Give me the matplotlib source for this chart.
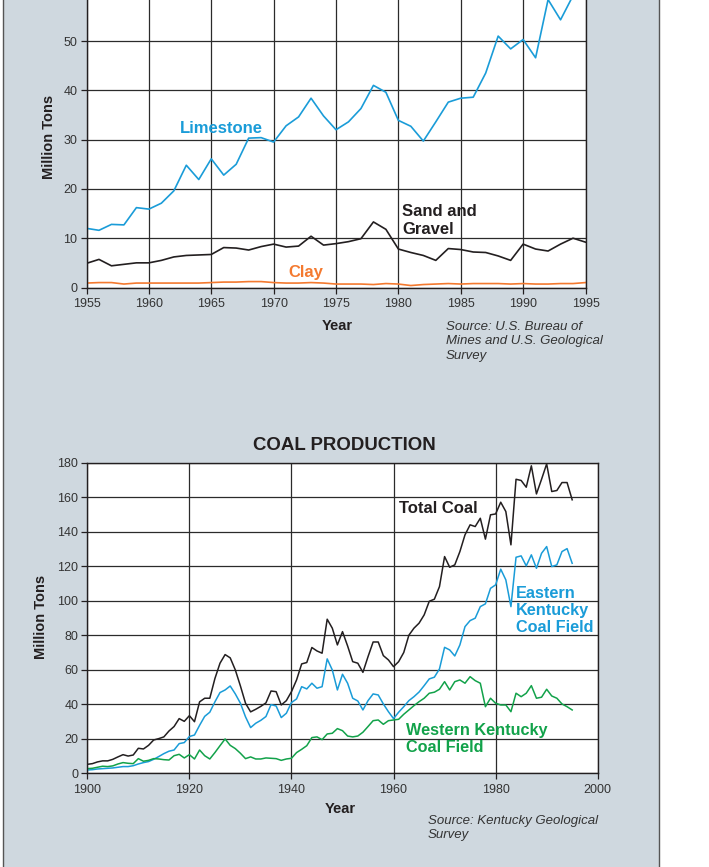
"""Kentucky mineral and coal production charts (two panels on a gray sheet)."""

import matplotlib
matplotlib.use("Agg")
import matplotlib.pyplot as plt
from matplotlib.patches import Rectangle

# ---- data -------------------------------------------------------------
MINERAL_YEARS = list(range(1955, 1996))
LIMESTONE = [12.0, 11.6, 12.8, 12.7, 16.2, 15.9, 17.1, 19.6, 24.8, 21.9,
             26.1, 22.8, 25.0, 30.3, 30.4, 29.5, 32.8, 34.6, 38.4, 34.8,
             32.0, 33.6, 36.3, 41.0, 39.6, 33.9, 32.7, 29.7, 33.6, 37.6,
             38.4, 38.6, 43.5, 51.0, 48.4, 50.3, 46.6, 58.4, 54.3, 59.2,
             61.0]
SAND_GRAVEL = [4.9, 5.7, 4.4, 4.7, 5.0, 5.0, 5.5, 6.2, 6.5, 6.6,
               6.7, 8.1, 8.0, 7.6, 8.3, 8.8, 8.2, 8.4, 10.4, 8.6,
               8.9, 9.3, 9.9, 13.3, 11.8, 7.8, 7.1, 6.5, 5.5, 7.9,
               7.7, 7.2, 7.1, 6.4, 5.5, 8.8, 7.8, 7.4, 8.8, 10.0,
               9.2]
CLAY = [0.9, 1.0, 1.0, 0.7, 0.9, 0.9, 0.9, 0.9, 0.9, 0.9,
        1.0, 1.1, 1.1, 1.2, 1.2, 1.0, 0.9, 0.9, 1.0, 0.9,
        0.7, 0.7, 0.7, 0.6, 0.8, 0.7, 0.4, 0.6, 0.7, 0.8,
        0.7, 0.8, 0.8, 0.8, 0.7, 0.8, 0.7, 0.7, 0.8, 0.8,
        1.0]
MINERAL_XTICKS = [1955, 1960, 1965, 1970, 1975, 1980, 1985, 1990, 1995]
MINERAL_YTICKS = [0, 10, 20, 30, 40, 50]

COAL_YEARS = list(range(1900, 1996))
TOTAL_COAL = [5.2, 5.6, 6.6, 7.2, 7.2, 8.1, 9.5, 10.8, 10.0, 10.6,
              14.5, 14.1, 16.2, 19.3, 20.1, 21.1, 24.5, 27.1, 31.7, 30.1,
              33.4, 29.9, 41.4, 43.5, 43.5, 54.9, 63.8, 68.8, 66.9, 59.9,
              50.6, 40.6, 35.6, 37.1, 38.8, 40.8, 47.7, 47.3, 39.6, 42.1,
              47.3, 54.1, 63.4, 64.2, 72.9, 70.9, 69.6, 89.3, 84.1, 74.4,
              82.1, 73.8, 64.7, 63.8, 58.5, 67.6, 76.1, 76.1, 68.2, 65.7,
              61.8, 64.7, 70.0, 80.0, 84.1, 87.0, 91.8, 99.7, 100.9, 108.2,
              125.6, 119.4, 120.8, 128.5, 138.2, 144.0, 143.0, 147.8, 135.7, 149.8,
              150.3, 157.1, 151.7, 132.4, 170.4, 169.7, 165.8, 178.2, 161.9, 170.4,
              179.3, 163.3, 163.9, 168.5, 168.5, 158.5]
EASTERN = [1.9, 2.1, 2.5, 2.7, 2.9, 3.1, 3.5, 3.9, 3.9, 4.4,
           5.4, 6.2, 6.8, 8.1, 9.7, 11.4, 12.8, 13.5, 17.2, 17.8,
           21.3, 22.2, 27.8, 33.0, 35.4, 41.4, 46.8, 48.3, 50.6, 46.0,
           40.6, 32.7, 26.5, 29.0, 30.7, 32.9, 39.8, 39.0, 32.3, 34.8,
           41.0, 43.1, 50.2, 48.9, 52.2, 49.3, 50.2, 66.3, 59.9, 48.3,
           57.4, 52.2, 43.5, 41.9, 36.7, 42.1, 46.0, 45.4, 40.2, 35.7,
           31.7, 35.4, 38.6, 42.1, 44.4, 47.1, 50.8, 54.7, 55.7, 60.5,
           73.0, 71.5, 68.0, 74.4, 85.0, 88.5, 89.9, 96.6, 98.2, 107.2,
           109.2, 118.3, 112.1, 96.6, 125.2, 126.0, 120.2, 126.6, 118.8, 127.5,
           131.4, 119.8, 120.8, 128.5, 130.2, 121.7]
WESTERN = [2.7, 2.9, 3.5, 4.1, 3.9, 4.3, 5.4, 6.2, 5.8, 5.6,
           8.5, 7.0, 7.5, 8.5, 8.3, 7.9, 7.7, 10.2, 11.0, 8.9,
           10.8, 8.3, 13.5, 10.2, 8.3, 12.0, 16.0, 19.9, 16.2, 14.3,
           11.6, 8.5, 9.5, 8.3, 8.3, 8.9, 8.7, 8.5, 7.5, 8.3,
           8.7, 12.0, 13.9, 16.0, 20.7, 21.1, 19.5, 22.8, 23.2, 25.9,
           24.7, 21.6, 21.1, 21.6, 23.8, 27.1, 30.5, 30.9, 28.4, 30.5,
           30.9, 31.3, 34.2, 36.7, 39.2, 41.5, 43.5, 46.4, 47.0, 48.7,
           53.1, 48.3, 53.1, 54.1, 52.2, 56.0, 53.7, 52.2, 38.6, 43.5,
           40.6, 39.6, 39.6, 35.7, 46.4, 44.4, 46.4, 50.8, 43.5, 44.1,
           48.7, 44.8, 43.5, 40.2, 38.6, 36.7]
COAL_XTICKS = [1900, 1920, 1940, 1960, 1980, 2000]
COAL_YTICKS = [0, 20, 40, 60, 80, 100, 120, 140, 160, 180]

# ---- style ------------------------------------------------------------
W, H = 709, 867
PANEL = "#cfd8df"
BLUE = "#1a9cd8"
GREEN = "#12a24a"
ORANGE = "#f47a30"
INK = "#231f20"
GRID = "#2b2b2b"

plt.rcParams["font.family"] = ["Liberation Sans", "DejaVu Sans"]


def fx(px: float) -> float:
    """Pixel column -> figure fraction."""
    return px / W


def fy(py: float) -> float:
    """Pixel row (from top) -> figure fraction."""
    return 1 - py / H


def style_axes(ax, xticks, yticks):
    """Shared look: white plot area, dark grid, short outward ticks."""
    ax.set_facecolor("white")
    ax.set_xticks(xticks)
    ax.set_yticks(yticks)
    ax.grid(True, color=GRID, linewidth=0.9)
    ax.set_axisbelow(True)
    ax.tick_params(direction="out", length=4.5, width=0.9, color=INK,
                   labelsize=9, labelcolor="#333333", pad=2)
    ax.tick_params(axis="x", pad=3)
    for spine in ax.spines.values():
        spine.set_color(INK)
        spine.set_linewidth(1.0)


def plot_minerals(fig):
    """Upper chart: limestone, sand and gravel, clay (top is cut off)."""
    # axes run past the top edge of the figure, as in the cropped original
    ax = fig.add_axes([fx(86.5), fy(287.5), fx(499), 60 * 4.93 / H])
    ax.plot(MINERAL_YEARS, LIMESTONE, color=BLUE, lw=1.2)
    ax.plot(MINERAL_YEARS, SAND_GRAVEL, color=INK, lw=1.2)
    ax.plot(MINERAL_YEARS, CLAY, color=ORANGE, lw=1.2)
    ax.set_xlim(1955, 1995)
    ax.set_ylim(0, 60)
    style_axes(ax, MINERAL_XTICKS, MINERAL_YTICKS)
    ax.spines["top"].set_visible(False)

    ax.text(1962.5, 32.3, "Limestone", color=BLUE, fontsize=12,
            fontweight="bold", ha="left", va="center")
    ax.text(1980.3, 13.6, "Sand and\nGravel", color=INK, fontsize=12,
            fontweight="bold", ha="left", va="center", linespacing=1.2)
    ax.text(1971.2, 3.1, "Clay", color=ORANGE, fontsize=12,
            fontweight="bold", ha="left", va="center")

    fig.text(fx(49), fy(137), "Million Tons", rotation=90, fontsize=10.5,
             fontweight="bold", color=INK, ha="center", va="center")
    fig.text(fx(337), fy(326), "Year", fontsize=10.5, fontweight="bold",
             color=INK, ha="center", va="center")
    fig.text(fx(446), fy(321), "Source: U.S. Bureau of\nMines and U.S. Geological\nSurvey",
             fontsize=9.5, style="italic", color="#333333", ha="left",
             va="top", linespacing=1.27)


def plot_coal(fig):
    """Lower chart: Kentucky coal production by field."""
    ax = fig.add_axes([fx(87.3), fy(773.3), fx(510.4), 310.6 / H])
    ax.plot(COAL_YEARS, TOTAL_COAL, color=INK, lw=1.1)
    ax.plot(COAL_YEARS, EASTERN, color=BLUE, lw=1.1)
    ax.plot(COAL_YEARS, WESTERN, color=GREEN, lw=1.1)
    ax.set_xlim(1900, 2000)
    ax.set_ylim(0, 180)
    style_axes(ax, COAL_XTICKS, COAL_YTICKS)

    ax.text(1961.1, 153.2, "Total Coal", color=INK, fontsize=12,
            fontweight="bold", ha="left", va="center")
    ax.text(1983.9, 94.5, "Eastern\nKentucky\nCoal Field", color=BLUE,
            fontsize=11.7, fontweight="bold", ha="left", va="center",
            linespacing=1.16)
    ax.text(1962.4, 19.7, "Western Kentucky\nCoal Field", color=GREEN,
            fontsize=11.7, fontweight="bold", ha="left", va="center",
            linespacing=1.16)

    fig.text(fx(344), fy(445), "COAL PRODUCTION", fontsize=13.4,
             fontweight="bold", color=INK, ha="center", va="center")
    fig.text(fx(41), fy(617), "Million Tons", rotation=90, fontsize=10.5,
             fontweight="bold", color=INK, ha="center", va="center")
    fig.text(fx(340), fy(809), "Year", fontsize=10.5, fontweight="bold",
             color=INK, ha="center", va="center")
    fig.text(fx(428), fy(815), "Source: Kentucky Geological\nSurvey",
             fontsize=9.5, style="italic", color="#333333", ha="left",
             va="top", linespacing=1.27)


def main():
    fig = plt.figure(figsize=(W / 100, H / 100), dpi=100, facecolor="white")
    # gray sheet behind both charts; vertical extent overshoots the canvas
    fig.patches.append(Rectangle((fx(3), -0.02), fx(656), 1.04,
                                 transform=fig.transFigure, facecolor=PANEL,
                                 edgecolor="#555555", linewidth=1.0,
                                 zorder=-10))
    plot_minerals(fig)
    plot_coal(fig)
    fig.savefig("out.png", dpi=100)


if __name__ == "__main__":
    main()
